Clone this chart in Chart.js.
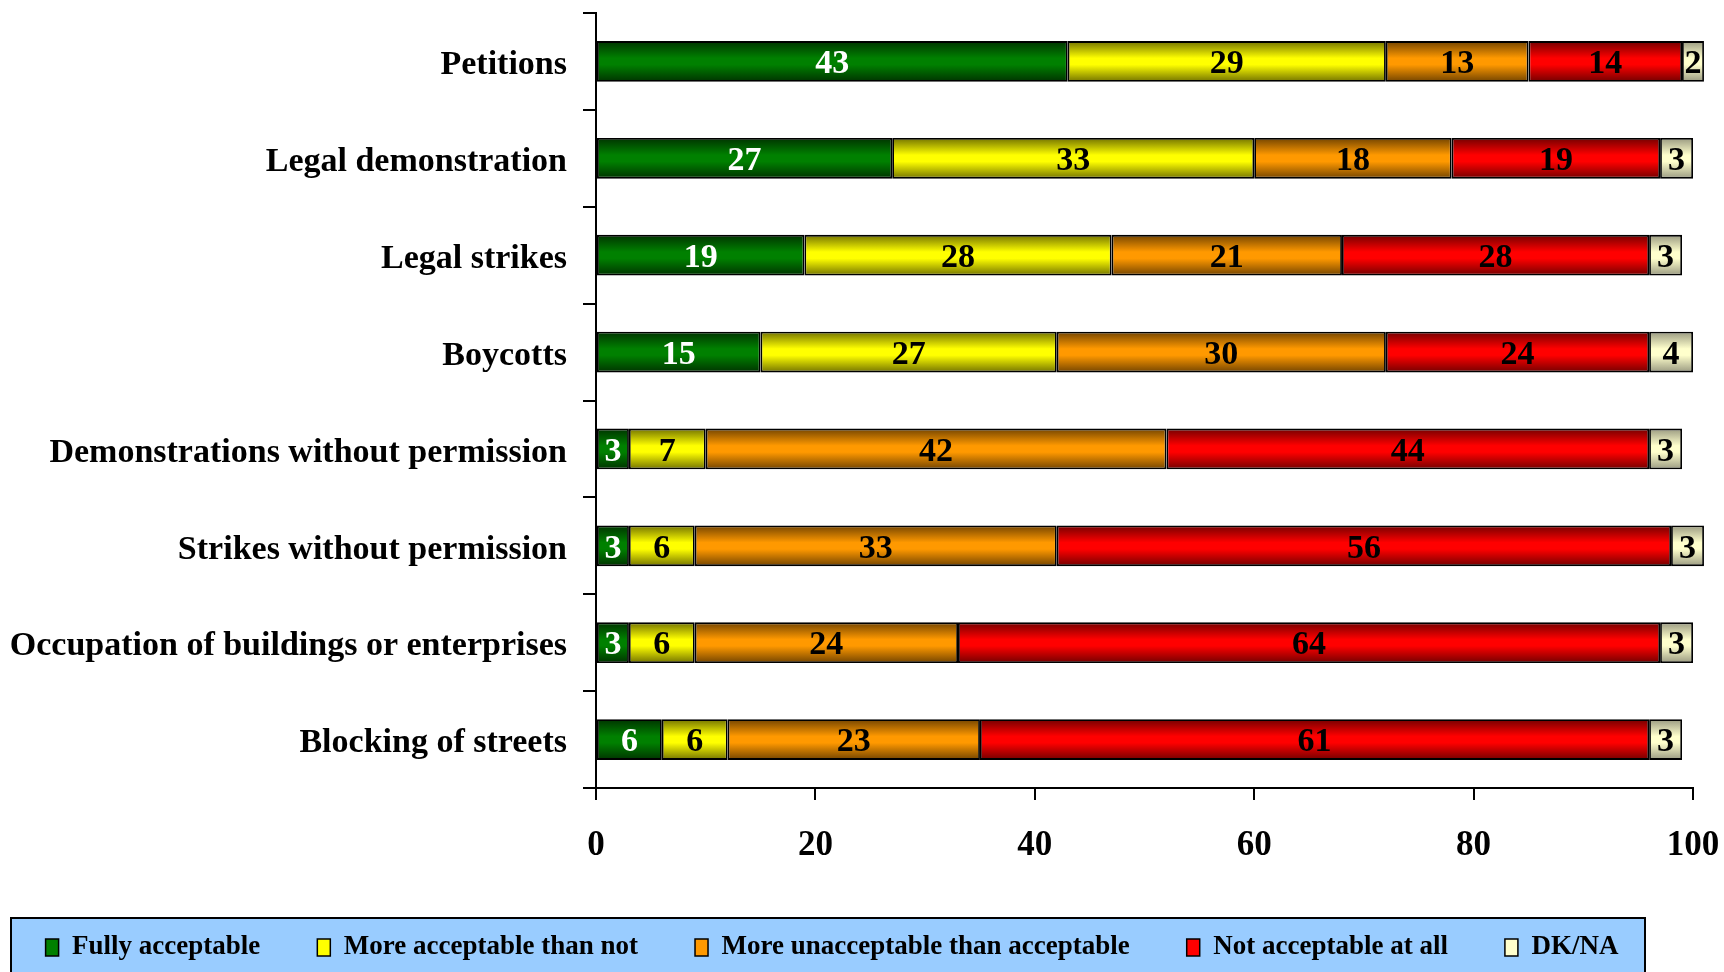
<!DOCTYPE html>
<html lang="en">

<head>
  <meta charset="UTF-8">
  <title>Acceptability of forms of protest</title>
  <style>
    body { margin: 0; background: #fff; }
    #wrap { width: 1724px; height: 972px; }
  </style>
</head>

<body>
  <div id="wrap"><canvas id="grafico1"></canvas></div>

  <script src="https://cdn.jsdelivr.net/npm/chart.js"></script>

  <script>
    const categorias = [
      "Petitions",
      "Legal demonstration",
      "Legal strikes",
      "Boycotts",
      "Demonstrations without permission",
      "Strikes without permission",
      "Occupation of buildings or enterprises",
      "Blocking of streets"
    ]

    const fullyAcceptable = [43, 27, 19, 15, 3, 3, 3, 6]
    const moreAcceptable = [29, 33, 28, 27, 7, 6, 6, 6]
    const moreUnacceptable = [13, 18, 21, 30, 42, 33, 24, 23]
    const notAcceptable = [14, 19, 28, 24, 44, 56, 64, 61]
    const dkna = [2, 3, 3, 4, 3, 3, 3, 3]

    const nomesSeries = ["Fully acceptable", "More acceptable than not", "More unacceptable than acceptable", "Not acceptable at all", "DK/NA"]
    const ticksX = [0, 20, 40, 60, 80, 100]

    // cor base, cor escura (bordas do gradiente), cor do texto
    const cores = [
      ["#008000", "#003300", "#ffffff"],
      ["#ffff00", "#737300", "#000000"],
      ["#ff9900", "#734400", "#000000"],
      ["#ff0000", "#730000", "#000000"],
      ["#ffffcc", "#999980", "#000000"]
    ]

    const barPct = 0.42
    const fonte = "'Liberation Serif', 'Times New Roman', serif"

    let gradiente = (i) => (c) => {
      const y = c.chart.scales.y
      if (c.type !== 'data' || !y || !y.height) return cores[i][0]
      const cy = y.getPixelForValue(c.dataIndex)
      const h = y.height / categorias.length * barPct
      const g = c.chart.ctx.createLinearGradient(0, cy - h / 2, 0, cy + h / 2)
      g.addColorStop(0, cores[i][1])
      g.addColorStop(0.42, cores[i][0])
      g.addColorStop(0.58, cores[i][0])
      g.addColorStop(1, cores[i][1])
      return g
    }

    const series = [fullyAcceptable, moreAcceptable, moreUnacceptable, notAcceptable, dkna]

    const datasets = series.map((valores, i) => ({
      label: nomesSeries[i],
      data: valores,
      backgroundColor: gradiente(i),
      borderColor: '#000',
      borderWidth: 1.8,
      borderSkipped: false,
      barPercentage: barPct,
      categoryPercentage: 1,
      clip: false
    }))

    // rotulos dentro das barras
    const rotulos = {
      id: 'rotulos',
      afterDatasetsDraw(chart) {
        const ctx = chart.ctx
        ctx.save()
        ctx.font = "bold 34px " + fonte
        ctx.textAlign = 'center'
        ctx.textBaseline = 'middle'
        chart.data.datasets.forEach((ds, i) => {
          chart.getDatasetMeta(i).data.forEach((el, j) => {
            ctx.fillStyle = cores[i][2]
            ctx.fillText(String(ds.data[j]), (el.x + el.base) / 2, el.y + 3)
          })
        })
        ctx.restore()
      }
    }

    // caixa azul atras da legenda
    const fundoLegenda = {
      id: 'fundoLegenda',
      beforeDraw(chart) {
        const ctx = chart.ctx
        ctx.save()
        ctx.fillStyle = '#99ccff'
        ctx.fillRect(11, 918, 1634, 60)
        ctx.strokeStyle = '#000'
        ctx.lineWidth = 2
        ctx.strokeRect(11, 918, 1634, 60)
        ctx.restore()
      }
    }

    const ctx = document.getElementById('grafico1')

    let grafico1 = new Chart(ctx, {
      type: 'bar',
      data: {
        labels: categorias,
        datasets: datasets
      },
      plugins: [fundoLegenda, rotulos],
      options: {
        indexAxis: 'y',
        responsive: true,
        maintainAspectRatio: false,
        animation: false,
        layout: { padding: { top: 13, right: 31, bottom: 1, left: -29 } },
        plugins: {
          tooltip: { enabled: false },
          legend: {
            position: 'bottom',
            labels: {
              color: '#000',
              font: { family: fonte, size: 27, weight: 'bold' },
              boxWidth: 13,
              boxHeight: 17,
              padding: 57,
              generateLabels: () => nomesSeries.map((n, i) => ({
                text: n,
                fillStyle: cores[i][0],
                strokeStyle: '#000',
                lineWidth: 1.5,
                hidden: false,
                datasetIndex: i
              }))
            }
          }
        },
        scales: {
          x: {
            stacked: true,
            min: 0,
            max: 100,
            afterBuildTicks: (s) => { s.ticks = ticksX.map(v => ({ value: v })) },
            afterFit: (s) => { s.height = 89; s.paddingLeft = 0; s.paddingRight = 0 },
            grid: { drawOnChartArea: false, drawTicks: true, tickLength: 12, color: '#000', lineWidth: 2 },
            border: { display: true, color: '#000', width: 2 },
            ticks: {
              color: '#000',
              padding: 25,
              maxRotation: 0,
              font: { family: fonte, size: 35, weight: 'bold' }
            }
          },
          y: {
            stacked: true,
            afterFit: (s) => { s.width = 625; s.paddingTop = 0; s.paddingBottom = 0 },
            grid: { drawOnChartArea: false, drawTicks: true, tickLength: 13, color: '#000', lineWidth: 2, offset: true },
            border: { display: true, color: '#000', width: 2 },
            ticks: {
              color: '#000',
              padding: 16,
              labelOffset: 4,
              font: { family: fonte, size: 34, weight: 'bold' }
            }
          }
        }
      }
    })
  </script>
</body>

</html>
